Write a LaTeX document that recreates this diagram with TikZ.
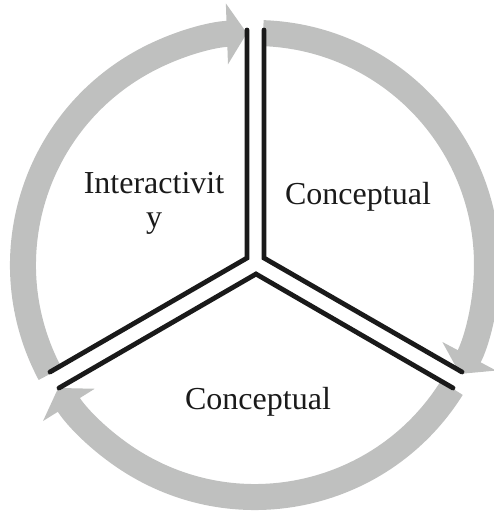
\documentclass[tikz,border=0pt]{standalone}
\usepackage{fontspec}
\setmainfont{Liberation Serif}
\usetikzlibrary{arrows.meta,calc}
\definecolor{ink}{RGB}{26,26,26}
\definecolor{ringgray}{RGB}{191,192,191}
\tikzset{
  ring/.style={draw=ringgray, line width=26pt,
    -{Triangle[length=20pt,width=60pt]}},
  wall/.style={draw=ink, line width=4.8pt, line join=miter, line cap=round},
  sectortext/.style={font=\fontsize{32}{34}\selectfont, text=ink, align=center,
    inner sep=0pt},
}

\begin{document}
\begin{tikzpicture}[x=1pt,y=1pt]
  \useasboundingbox (0,0) rectangle (494,-511);
  \coordinate (c) at (255,-265);
  % gray cycle arrows
  \draw[ring] ($(c)+(208:232pt)$) arc[start angle=208, end angle=92, radius=232pt];
  \draw[ring] ($(c)+(88:232pt)$) arc[start angle=88, end angle=-28, radius=232pt];
  \draw[ring] ($(c)+(-32:232pt)$) arc[start angle=-32, end angle=-148, radius=232pt];
  % sector walls
  \coordinate (tl) at (247,-258);
  \coordinate (tr) at (264,-258);
  \coordinate (bt) at (256,-274);
  \draw[wall] (247,-30) -- (tl) -- (50,-372);
  \draw[wall] (264,-30) -- (tr) -- (462,-372);
  \draw[wall] (59,-388) -- (bt) -- (453,-388);
  % sector texts
  \node[sectortext] (inter) at (154,-203) {Interactivit\\y};
  \node[sectortext, anchor=base] (concr) at (358,-204) {Conceptual};
  \node[sectortext, anchor=base] (concb) at (258,-409) {Conceptual};
\end{tikzpicture}
\end{document}
